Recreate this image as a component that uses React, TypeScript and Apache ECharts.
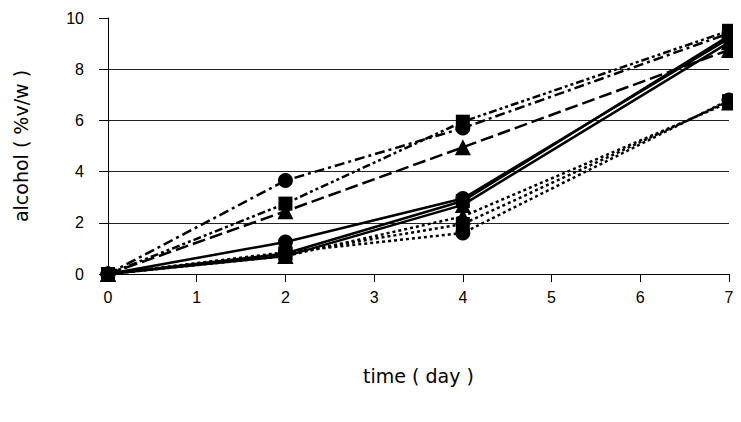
import React, { useEffect, useRef } from "react";
import * as echarts from "echarts";

const days = [0, 2, 4, 7];
const xTicks = [0, 1, 2, 3, 4, 5, 6, 7];
const yTicks = [0, 2, 4, 6, 8, 10];

// upper dashed group
const dashCircle = [0, 3.65, 5.7, 9.4];
const dashSquare = [0, 2.75, 5.95, 9.5];
const dashTriangle = [0, 2.45, 4.95, 8.75];
// middle solid group
const solidCircle = [0, 1.25, 2.95, 9.2];
const solidSquare = [0, 0.8, 2.85, 9.3];
const solidTriangle = [0, 0.7, 2.7, 9.05];
// lower dotted group
const dotCircle = [0, 0.85, 1.6, 6.8];
const dotSquare = [0, 0.8, 1.95, 6.75];
const dotTriangle = [0, 0.7, 2.25, 6.7];

const pairs = (vals: number[]) => days.map((d, i) => [d, vals[i]]);

export default function App() {
  const ref = useRef<HTMLDivElement>(null);
  useEffect(() => {
    if (!ref.current) return;
    const chart = echarts.init(ref.current, undefined, { renderer: "svg" });
    const mk = (
      name: string,
      vals: number[],
      symbol: string,
      lineType: any,
      width: number,
      size: number
    ) => ({
      name,
      type: "line",
      data: pairs(vals),
      symbol,
      symbolSize: size,
      showAllSymbol: true,
      itemStyle: { color: "#000" },
      lineStyle: { color: "#000", width, type: lineType },
      z: 3,
    });
    chart.setOption({
      animation: false,
      backgroundColor: "#fff",
      textStyle: { fontFamily: "Liberation Sans" },
      grid: { left: 108, right: 12, top: 18, bottom: 148, containLabel: false },
      xAxis: {
        type: "value",
        min: xTicks[0],
        max: xTicks[xTicks.length - 1],
        interval: 1,
        name: "time ( day )",
        nameLocation: "middle",
        nameGap: 92,
        nameTextStyle: { fontSize: 19, color: "#000", fontFamily: "DejaVu Sans" },
        axisLine: { show: true, lineStyle: { color: "#000", width: 1 } },
        axisTick: { show: true, inside: false, length: 8, lineStyle: { color: "#000" } },
        axisLabel: { margin: 15, fontSize: 16, color: "#000", fontFamily: "Liberation Sans" },
        splitLine: { show: false },
      },
      yAxis: {
        type: "value",
        min: yTicks[0],
        max: yTicks[yTicks.length - 1],
        interval: 2,
        name: "alcohol ( %v/w )",
        nameLocation: "middle",
        nameGap: 78,
        nameTextStyle: { fontSize: 19, color: "#000", fontFamily: "DejaVu Sans" },
        axisLine: { show: true, lineStyle: { color: "#000", width: 1 } },
        axisTick: { show: true, inside: false, length: 9, lineStyle: { color: "#000" } },
        axisLabel: { margin: 24, fontSize: 16, color: "#000", fontFamily: "Liberation Sans" },
        splitLine: {
          show: true,
          showMaxLine: false,
          lineStyle: { color: "#222", width: 1 },
        },
      },
      series: [
        mk("dashCircle", dashCircle, "circle", [10, 4, 3, 4], 2.5, 15),
        mk("dashSquare", dashSquare, "rect", [8, 3, 3, 3, 3, 3], 2.5, 14),
        mk("dashTriangle", dashTriangle, "triangle", [13, 5], 2.5, 16),
        mk("solidCircle", solidCircle, "circle", "solid", 2.5, 15),
        mk("solidSquare", solidSquare, "rect", "solid", 2.5, 14),
        mk("solidTriangle", solidTriangle, "triangle", "solid", 2.5, 16),
        mk("dotCircle", dotCircle, "circle", [3, 3], 2.5, 15),
        mk("dotSquare", dotSquare, "rect", [3, 3], 2.5, 14),
        mk("dotTriangle", dotTriangle, "triangle", [3, 3], 2.5, 16),
      ],
    });
    return () => chart.dispose();
  }, []);
  return <div ref={ref} style={{ width: 741, height: 422, margin: -8 }} />;
}
